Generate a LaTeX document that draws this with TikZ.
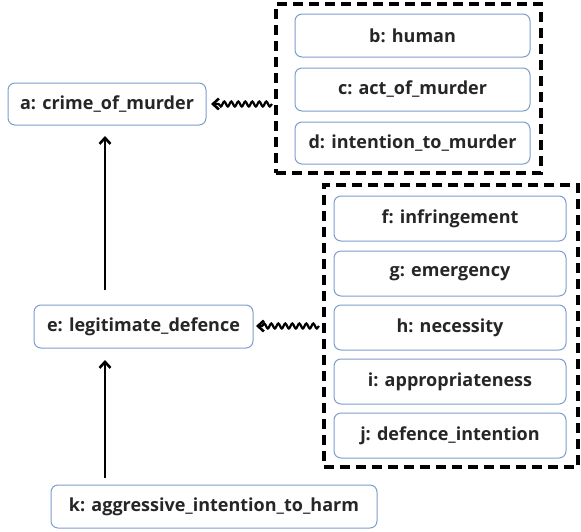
\documentclass[tikz,border=0pt]{standalone}
\usepackage{fontspec}
\setmainfont{Open Sans}
\usetikzlibrary{arrows.meta,decorations.pathmorphing}
\definecolor{boxblue}{RGB}{125,158,205}
\begin{document}
\begin{tikzpicture}[x=1pt,y=-1pt,
  box/.style={draw=boxblue, line width=1pt, rounded corners=7pt, fill=white, font=\bfseries\fontsize{18}{21}\selectfont, text=black!85, inner sep=0pt},
  grp/.style={draw=black, line width=3.3pt, dash pattern=on 10pt off 6pt},
  tip/.style={line width=2.6pt, -{Straight Barb[length=6pt,width=11pt]}},
  arr/.style={line width=2.6pt, -{Straight Barb[length=6pt,width=11pt]}},
  snk/.style={line width=2.2pt, decorate, decoration={snake, segment length=7pt, amplitude=2.5pt}}]
\useasboundingbox (0,0) rectangle (581,531);
\node[box, minimum width=198pt, minimum height=42pt] (a) at (107,104) {a: crime\_of\_murder};
\node[box, minimum width=235pt, minimum height=43pt] (b) at (412.5,35.5) {b: human};
\node[box, minimum width=235pt, minimum height=43pt] (c) at (412.5,89.5) {c: act\_of\_murder};
\node[box, minimum width=235pt, minimum height=42pt] (d) at (412.5,143) {d: intention\_to\_murder};
\node[grp, minimum width=265pt, minimum height=169pt] (g1) at (408.5,88.5) {};
\node[box, minimum width=232pt, minimum height=45pt] (f) at (450,218.5) {f: infringement};
\node[box, minimum width=232pt, minimum height=45pt] (g) at (450,273.5) {g: emergency};
\node[box, minimum width=232pt, minimum height=45pt] (h) at (450,327.5) {h: necessity};
\node[box, minimum width=232pt, minimum height=45pt] (i) at (450,381.5) {i: appropriateness};
\node[box, minimum width=232pt, minimum height=45pt] (j) at (450,435.5) {j: defence\_intention};
\node[grp, minimum width=254pt, minimum height=282pt] (g2) at (451,326) {};
\node[box, minimum width=219pt, minimum height=43pt] (e) at (143.5,326.5) {e: legitimate\_defence};
\node[box, minimum width=326pt, minimum height=43pt] (k) at (214,506.5) {k: aggressive\_intention\_to\_harm};
\coordinate (eTop) at (105,290);
\coordinate (aBot) at (105,136);
\coordinate (kTop) at (105,478);
\coordinate (eBot) at (105,360);
\draw[arr] (eTop) -- (aBot);
\draw[arr] (kTop) -- (eBot);
\coordinate (s1) at (272,104);
\coordinate (s1e) at (211,104);
\coordinate (s2) at (319,326);
\coordinate (s2e) at (256,326);
\draw[snk] (s1) -- ([xshift=5pt]s1e);
\draw[tip] ([xshift=6pt]s1e) -- (s1e);
\draw[snk] (s2) -- ([xshift=5pt]s2e);
\draw[tip] ([xshift=6pt]s2e) -- (s2e);
\end{tikzpicture}
\end{document}
